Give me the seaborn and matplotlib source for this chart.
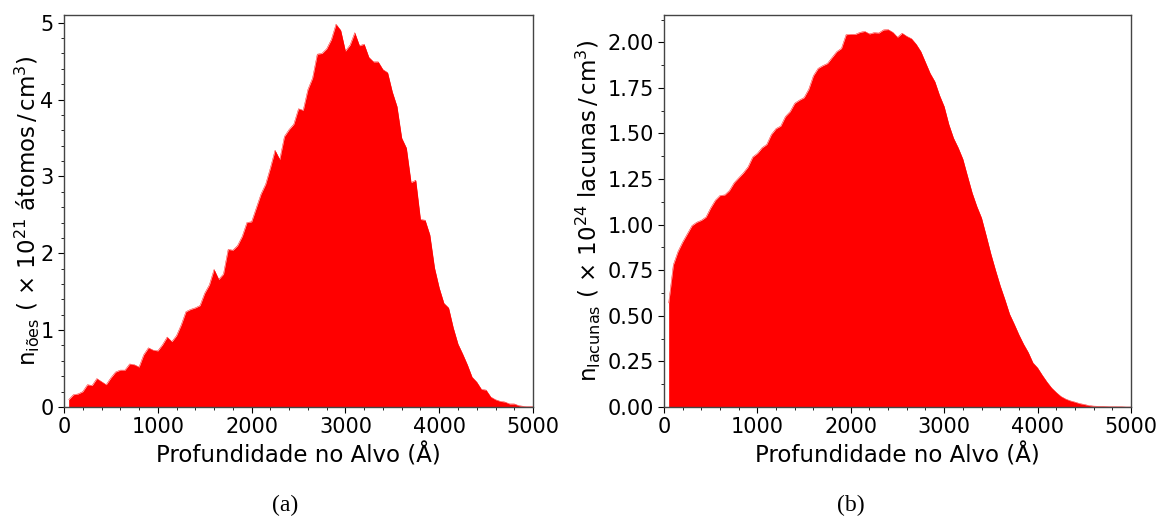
import matplotlib
matplotlib.use("Agg")
import matplotlib.pyplot as plt
import seaborn as sns
import numpy as np
from matplotlib.ticker import MultipleLocator

# depth grid (Angstrom), 50 .. 5000
depth = np.arange(50, 5001, 50)

# (a) implanted ions, x 10^21 atoms/cm^3
ions = [
    0.095, 0.16, 0.17, 0.20, 0.29, 0.28, 0.37, 0.33, 0.29, 0.38,
    0.455, 0.48, 0.48, 0.56, 0.55, 0.52, 0.68, 0.77, 0.74, 0.73,
    0.81, 0.91, 0.85, 0.93, 1.07, 1.24, 1.27, 1.29, 1.32, 1.48,
    1.59, 1.79, 1.66, 1.73, 2.05, 2.04, 2.10, 2.22, 2.40, 2.41,
    2.59, 2.77, 2.90, 3.11, 3.34, 3.22, 3.52, 3.61, 3.68, 3.88,
    3.86, 4.13, 4.28, 4.59, 4.60, 4.66, 4.78, 4.98, 4.90, 4.63,
    4.71, 4.87, 4.70, 4.72, 4.55, 4.49, 4.49, 4.39, 4.35, 4.10,
    3.91, 3.50, 3.37, 2.92, 2.95, 2.44, 2.43, 2.24, 1.81, 1.55,
    1.35, 1.29, 1.03, 0.82, 0.69, 0.55, 0.39, 0.325, 0.23, 0.22,
    0.13, 0.095, 0.074, 0.065, 0.04, 0.04, 0.017, 0.009, 0.004, 0.002,
]

# (b) vacancies, x 10^24 vacancies/cm^3
vacancies = [
    0.57, 0.78, 0.853, 0.905, 0.95, 0.995, 1.013, 1.024, 1.042, 1.092,
    1.134, 1.16, 1.163, 1.187, 1.229, 1.257, 1.284, 1.317, 1.371, 1.391,
    1.422, 1.44, 1.495, 1.527, 1.541, 1.593, 1.62, 1.666, 1.683, 1.697,
    1.743, 1.817, 1.857, 1.872, 1.884, 1.917, 1.949, 1.967, 2.042, 2.044,
    2.044, 2.055, 2.06, 2.046, 2.053, 2.051, 2.068, 2.07, 2.055, 2.028,
    2.05, 2.033, 2.02, 1.99, 1.95, 1.89, 1.83, 1.785, 1.71, 1.648,
    1.55, 1.475, 1.422, 1.36, 1.266, 1.174, 1.10, 1.037, 0.94, 0.84,
    0.75, 0.665, 0.59, 0.51, 0.455, 0.397, 0.345, 0.30, 0.243, 0.215,
    0.175, 0.138, 0.105, 0.08, 0.058, 0.044, 0.034, 0.027, 0.019, 0.014,
    0.008, 0.005, 0.004, 0.004, 0.003, 0.002, 0.001, 0.001, 0.0, 0.0,
]

sns.set_style("ticks", rc={"text.color": "black", "axes.labelcolor": "black",
                           "xtick.color": "black", "ytick.color": "black"})
plt.rcParams["font.family"] = ["DejaVu Sans"]

fig = plt.figure(figsize=(11.59, 5.18), dpi=100)
ax1 = fig.add_axes([0.0552, 0.2143, 0.4047, 0.7568])
ax2 = fig.add_axes([0.5729, 0.2143, 0.4029, 0.7568])

for ax, y in [(ax1, ions), (ax2, vacancies)]:
    sns.lineplot(x=depth, y=y, ax=ax, color="red", linewidth=0.3)
    ax.fill_between(depth, 0, y, color="red", linewidth=0)
    ax.set_xlim(0, 5000)
    ax.xaxis.set_major_locator(MultipleLocator(1000))
    ax.xaxis.set_minor_locator(MultipleLocator(200))
    ax.tick_params(labelsize=15, direction="out")
    ax.tick_params(which="major", length=4)
    ax.tick_params(which="minor", length=2.5)
    ax.set_xlabel("Profundidade no Alvo (Å)", fontsize=16.5)
    for s in ax.spines.values():
        s.set_color("#444444")
        s.set_linewidth(1.0)

ax1.set_ylim(0, 5.1)
ax1.yaxis.set_major_locator(MultipleLocator(1))
ax1.yaxis.set_minor_locator(MultipleLocator(0.2))
ax1.set_ylabel("n$_{\\mathregular{iões}}$ ( × 10$^{21}$ átomos$\\,/\\,$cm$^3$)",
               fontsize=16.5, labelpad=-1)

ax2.set_ylim(0, 2.15)
ax2.yaxis.set_major_locator(MultipleLocator(0.25))
ax2.yaxis.set_minor_locator(MultipleLocator(0.125))
ax2.set_ylabel("n$_{\\mathregular{lacunas}}$ ( × 10$^{24}$ lacunas$\\,/\\,$cm$^3$)",
               fontsize=16.5, labelpad=3)

fig.text(0.246, 0.025, "(a)", ha="center", va="center", fontsize=17, family="Liberation Serif")
fig.text(0.734, 0.025, "(b)", ha="center", va="center", fontsize=17, family="Liberation Serif")

fig.savefig("out.png", dpi=100)
